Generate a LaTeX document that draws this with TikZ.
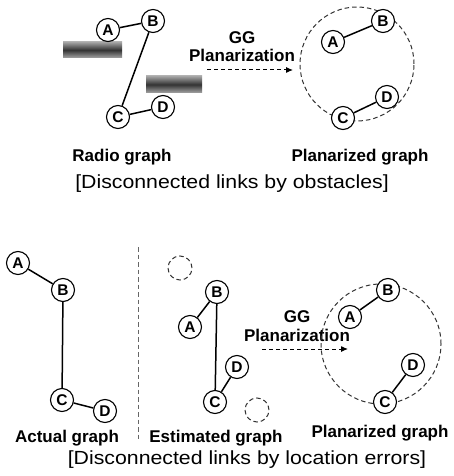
\documentclass[tikz,border=0pt]{standalone}
\usepackage{fontspec}
\usepackage{graphicx}
\setmainfont{Liberation Sans}
\usetikzlibrary{arrows.meta}
\begin{document}
\begin{tikzpicture}[x=1pt,y=-1pt,
  vtx/.style={circle,draw=black,line width=1.1pt,fill=white,minimum size=23pt,inner sep=0pt,
    font=\fontsize{15.5}{15.5}\selectfont\bfseries},
  edge/.style={line width=1.5pt},
  lbl/.style={font=\fontsize{17}{17}\selectfont\bfseries,inner sep=0pt},
  ttl/.style={font=\fontsize{19}{20}\selectfont,inner sep=0pt},
  dshape/.style={draw=black!80,line width=1pt,dash pattern=on 4.5pt off 3pt},
  ghost/.style={circle,dshape,minimum size=24pt,inner sep=0pt},
  bigc/.style={circle,dshape,inner sep=0pt},
  obst/.style={top color=black!35,bottom color=black!35,middle color=black!80},
  parrow/.style={line width=1pt,dash pattern=on 4pt off 3pt,-{Latex[length=7pt,width=6pt]}}
]
\useasboundingbox[fill=white] (0,0) rectangle (453,476);

% ---------- top: obstacles ----------
\shade[obst] (63,42) rectangle (122,58);
\shade[obst] (146,76) rectangle (202,93);

% radio graph
\node[vtx] (a1) at (108,30) {A};
\node[vtx] (b1) at (153,21) {B};
\node[vtx] (c1) at (118,117) {C};
\node[vtx] (d1) at (163,107) {D};
\draw[edge] (a1) -- (b1);
\draw[edge] (b1) -- (c1);
\draw[edge] (c1) -- (d1);
\node[lbl] (t1) at (122,157) {Radio graph};

% arrow
\node[lbl] (gg1) at (242,38) {GG};
\node[lbl] (pl1) at (242,55) {Planarization};
\coordinate (s1) at (207,70);
\coordinate (e1) at (293,70);
\draw[parrow] (s1) -- (e1);

% planarized graph (top)
\node[bigc,minimum size=114pt] (circ1) at (357,64) {};
\node[vtx] (a2) at (333,42) {A};
\node[vtx] (b2) at (383,21) {B};
\node[vtx] (c2) at (343,118) {C};
\node[vtx] (d2) at (387,97) {D};
\draw[edge] (a2) -- (b2);
\draw[edge] (c2) -- (d2);
\node[lbl] (t2) at (360,157) {Planarized graph};

\node[ttl] (T1) at (232,184) {\scalebox{1.12}[1]{[Disconnected links by obstacles]}};

% ---------- bottom ----------
% actual graph
\node[vtx] (a3) at (18,263) {A};
\node[vtx] (b3) at (63,290) {B};
\node[vtx] (c3) at (62,400) {C};
\node[vtx] (d3) at (105,411) {D};
\draw[edge] (a3) -- (b3);
\draw[edge] (b3) -- (c3);
\draw[edge] (c3) -- (d3);
\node[lbl] (t3) at (67,438) {Actual graph};

% separator
\coordinate (v1) at (138,247);
\coordinate (v2) at (138,442);
\draw[dshape,draw=black!60] (v1) -- (v2);

% estimated graph
\node[ghost] (g1) at (180,268) {};
\node[ghost] (g2) at (257,410) {};
\node[vtx] (a4) at (190,327) {A};
\node[vtx] (b4) at (217,292) {B};
\node[vtx] (c4) at (215,402) {C};
\node[vtx] (d4) at (237,367) {D};
\draw[edge] (a4) -- (b4);
\draw[edge] (b4) -- (c4);
\draw[edge] (c4) -- (d4);
\node[lbl] (t4) at (216,438) {Estimated graph};

% arrow
\node[lbl] (gg2) at (297,317) {GG};
\node[lbl] (pl2) at (297,335) {Planarization};
\coordinate (s2) at (262,349);
\coordinate (e2) at (348,349);
\draw[parrow] (s2) -- (e2);

% planarized graph (bottom)
\node[bigc,minimum size=120pt] (circ2) at (381,344) {};
\node[vtx] (a5) at (350,317) {A};
\node[vtx] (b5) at (388,290) {B};
\node[vtx] (c5) at (385,402) {C};
\node[vtx] (d5) at (413,365) {D};
\draw[edge] (a5) -- (b5);
\draw[edge] (c5) -- (d5);
\node[lbl] (t5) at (380,433) {Planarized graph};

\node[ttl] (T2) at (247,460) {\scalebox{1.12}[1]{[Disconnected links by location errors]}};
\end{tikzpicture}
\end{document}
